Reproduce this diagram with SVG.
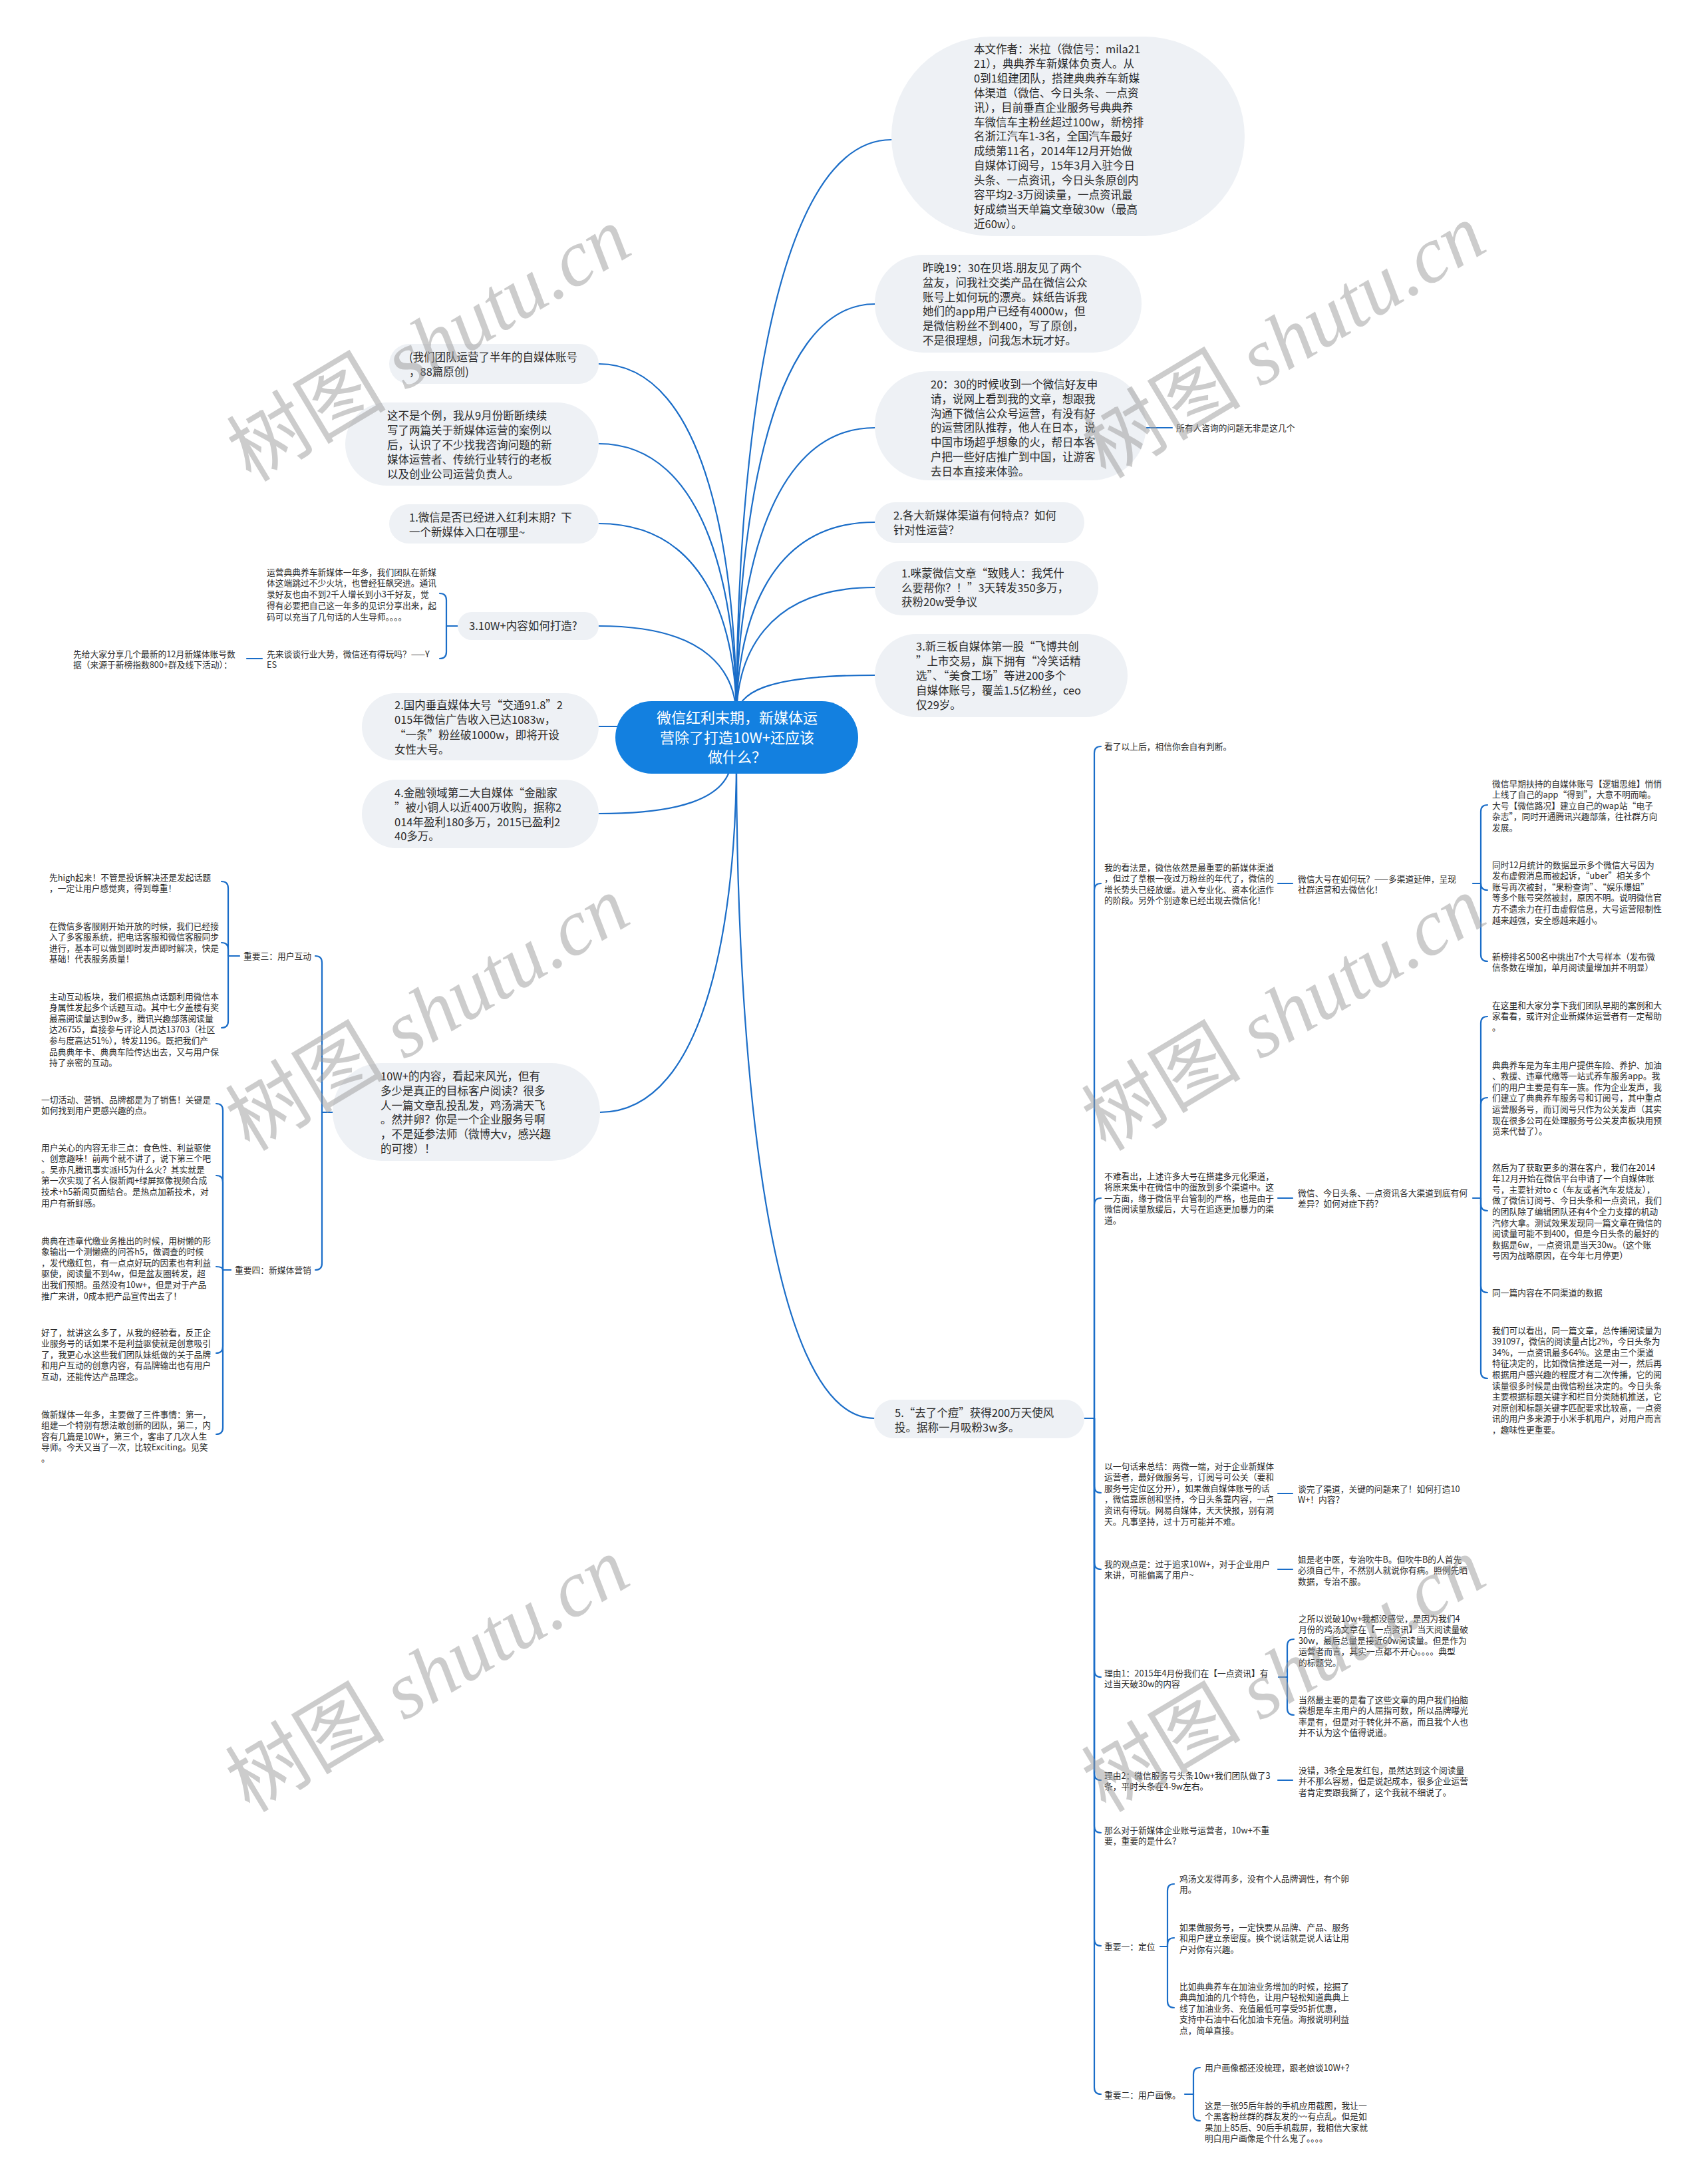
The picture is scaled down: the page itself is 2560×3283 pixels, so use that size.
<svg xmlns="http://www.w3.org/2000/svg" width="2560" height="3283" viewBox="0 0 2560 3283">
<style>
.bg{fill:#ffffff}
.b{fill:#eef1f5}
.root{fill:#1380e0}
.t{font-family:"Noto Sans CJK SC","Noto Sans",sans-serif;font-size:16.5px;fill:#2a2a2a}
.s{font-family:"Noto Sans CJK SC","Noto Sans",sans-serif;font-size:12.75px;fill:#2a2a2a}
.rt{font-family:"Noto Sans CJK SC","Noto Sans",sans-serif;font-size:22px;fill:#ffffff}
.c{fill:none;stroke:#1a6dc8;stroke-width:2.2;stroke-linecap:round}
.wm{font-family:"Liberation Serif","Noto Sans CJK SC",serif;font-size:120px;fill:#999999;fill-opacity:0.5}
.wm tspan.i{font-style:italic}
</style>
<rect class="bg" x="0" y="0" width="2560" height="3283"/>

<g id="connectors">
<path class="c" d="M1107,1080 C1107,719 1154,210 1340,210"/>
<path class="c" d="M1107,1080 C1107,818 1149,457 1315,457"/>
<path class="c" d="M1107,1080 C1107,893 1149,643 1315,643"/>
<path class="c" d="M1107,1080 C1107,949 1149,785 1315,785"/>
<path class="c" d="M1107,1080 C1107,989 1149,883 1315,883"/>
<path class="c" d="M1107,1080 C1107,1041 1149,1015 1315,1015"/>
<path class="c" d="M1107,1140 C1107,1551 1148,2132 1314,2132"/>
<path class="c" d="M1107,1080 C1107,854 1066,547 900,547"/>
<path class="c" d="M1107,1080 C1107,902 1066,667 900,667"/>
<path class="c" d="M1107,1080 C1107,950 1066,787 900,787"/>
<path class="c" d="M1107,1080 C1107,1012 1066,941 900,941"/>
<path class="c" d="M1010,1092 H900"/>
<path class="c" d="M1100,1140 C1098,1205 1010,1223 900,1223"/>
<path class="c" d="M1107,1140 C1107,1367 1066,1672 902,1672"/>
<path class="c" d="M1723,643 H1762"/>
<!-- 3.10W+ -->
<path class="c" d="M688,941 H671"/>
<path class="c" d="M671,941 V902 Q671,892 661,892"/>
<path class="c" d="M671,941 V980 Q671,990 661,990"/>
<path class="c" d="M394,990 H371"/>
<!-- 10W+ -->
<path class="c" d="M500,1672 H484"/>
<path class="c" d="M484,1672 V1447 Q484,1437 474,1437"/>
<path class="c" d="M484,1672 V1899 Q484,1909 474,1909"/>
<!-- 重要三 -->
<path class="c" d="M360,1437 H343"/>
<path class="c" d="M343,1437 V1335 Q343,1325 333,1325"/>
<path class="c" d="M343,1437 V1427 Q343,1417 333,1417"/>
<path class="c" d="M343,1437 V1535 Q343,1545 333,1545"/>
<!-- 重要四 -->
<path class="c" d="M347,1909 H335"/>
<path class="c" d="M335,1909 V1669 Q335,1659 325,1659"/>
<path class="c" d="M335,1909 V1777 Q335,1767 325,1767"/>
<path class="c" d="M335,1909 Q335,1904 325,1904"/>
<path class="c" d="M335,1909 V2024 Q335,2034 325,2034"/>
<path class="c" d="M335,1909 V2146 Q335,2156 325,2156"/>
<!-- 5. -->
<path class="c" d="M1630,2132 H1645"/>
<path class="c" d="M1645,2132 V1132 Q1645,1122 1655,1122"/>
<path class="c" d="M1645,2132 V1338 Q1645,1328 1655,1328"/>
<path class="c" d="M1645,2132 V1811 Q1645,1801 1655,1801"/>
<path class="c" d="M1645,2132 V2234 Q1645,2244 1655,2244"/>
<path class="c" d="M1645,2132 V2349 Q1645,2359 1655,2359"/>
<path class="c" d="M1645,2132 V2511 Q1645,2521 1655,2521"/>
<path class="c" d="M1645,2132 V2666 Q1645,2676 1655,2676"/>
<path class="c" d="M1645,2132 V2745 Q1645,2755 1655,2755"/>
<path class="c" d="M1645,2132 V2915 Q1645,2925 1655,2925"/>
<path class="c" d="M1645,2132 V3138 Q1645,3148 1655,3148"/>
<!-- R2 -->
<path class="c" d="M1921,1328 H1943"/>
<path class="c" d="M2214,1328 H2226"/>
<path class="c" d="M2226,1328 V1220 Q2226,1210 2236,1210"/>
<path class="c" d="M2226,1328 Q2226,1338 2236,1338"/>
<path class="c" d="M2226,1328 V1435 Q2226,1445 2236,1445"/>
<!-- R3 -->
<path class="c" d="M1921,1801 H1943"/>
<path class="c" d="M2214,1801 H2226"/>
<path class="c" d="M2226,1801 V1538 Q2226,1528 2236,1528"/>
<path class="c" d="M2226,1801 V1660 Q2226,1650 2236,1650"/>
<path class="c" d="M2226,1801 V1810 Q2226,1820 2236,1820"/>
<path class="c" d="M2226,1801 V1933 Q2226,1943 2236,1943"/>
<path class="c" d="M2226,1801 V2062 Q2226,2072 2236,2072"/>
<!-- R4 R5 -->
<path class="c" d="M1921,2245 H1943"/>
<path class="c" d="M1921,2359 H1943"/>
<!-- R6 -->
<path class="c" d="M1922,2521 H1935"/>
<path class="c" d="M1935,2521 V2474 Q1935,2464 1945,2464"/>
<path class="c" d="M1935,2521 V2568 Q1935,2578 1945,2578"/>
<!-- R7 -->
<path class="c" d="M1921,2676 H1943"/>
<!-- R9 -->
<path class="c" d="M1744,2926 H1755"/>
<path class="c" d="M1755,2926 V2842 Q1755,2832 1765,2832"/>
<path class="c" d="M1755,2926 V2923 Q1755,2913 1765,2913"/>
<path class="c" d="M1755,2926 V3008 Q1755,3018 1765,3018"/>
<!-- R10 -->
<path class="c" d="M1781,3148 H1794"/>
<path class="c" d="M1794,3148 V3118 Q1794,3108 1804,3108"/>
<path class="c" d="M1794,3148 V3178 Q1794,3188 1804,3188"/>
</g>

<g id="root">
<rect class="root" x="925" y="1054" width="365" height="109" rx="54.5"/>
<text class="rt" x="1108" y="1087" text-anchor="middle"><tspan x="1108" dy="0">微信红利末期，新媒体运</tspan><tspan x="1108" dy="29.5">营除了打造10W+还应该</tspan><tspan x="1108" dy="29.5">做什么？</tspan></text>
</g>

<g id="n-author">
<rect class="b" x="1340" y="55" width="531" height="300" rx="150"/>
<text class="t" x="1464" y="80"><tspan x="1464" dy="0">本文作者：米拉（微信号：mila21</tspan><tspan x="1464" dy="21.9">21），典典养车新媒体负责人。从</tspan><tspan x="1464" dy="21.9">0到1组建团队，搭建典典养车新媒</tspan><tspan x="1464" dy="21.9">体渠道（微信、今日头条、一点资</tspan><tspan x="1464" dy="21.9">讯），目前垂直企业服务号典典养</tspan><tspan x="1464" dy="21.9">车微信车主粉丝超过100w，新榜排</tspan><tspan x="1464" dy="21.9">名浙江汽车1-3名，全国汽车最好</tspan><tspan x="1464" dy="21.9">成绩第11名，2014年12月开始做</tspan><tspan x="1464" dy="21.9">自媒体订阅号，15年3月入驻今日</tspan><tspan x="1464" dy="21.9">头条、一点资讯，今日头条原创内</tspan><tspan x="1464" dy="21.9">容平均2-3万阅读量，一点资讯最</tspan><tspan x="1464" dy="21.9">好成绩当天单篇文章破30w（最高</tspan><tspan x="1464" dy="21.9">近60w）。</tspan></text>
</g>

<g id="n-b2">
<rect class="b" x="1315" y="383" width="401" height="147" rx="73"/>
<text class="t" x="1387" y="409"><tspan x="1387" dy="0">昨晚19：30在贝塔.朋友见了两个</tspan><tspan x="1387" dy="21.8">盆友，问我社交类产品在微信公众</tspan><tspan x="1387" dy="21.8">账号上如何玩的漂亮。妹纸告诉我</tspan><tspan x="1387" dy="21.8">她们的app用户已经有4000w，但</tspan><tspan x="1387" dy="21.8">是微信粉丝不到400，写了原创，</tspan><tspan x="1387" dy="21.8">不是很理想，问我怎木玩才好。</tspan></text>
</g>

<g id="n-b3">
<rect class="b" x="1315" y="558" width="408" height="164" rx="82"/>
<text class="t" x="1399" y="584"><tspan x="1399" dy="0">20：30的时候收到一个微信好友申</tspan><tspan x="1399" dy="21.8">请，说网上看到我的文章，想跟我</tspan><tspan x="1399" dy="21.8">沟通下微信公众号运营，有没有好</tspan><tspan x="1399" dy="21.8">的运营团队推荐，他人在日本，说</tspan><tspan x="1399" dy="21.8">中国市场超乎想象的火，帮日本客</tspan><tspan x="1399" dy="21.8">户把一些好店推广到中国，让游客</tspan><tspan x="1399" dy="21.8">去日本直接来体验。</tspan></text>
</g>

<g id="n-b3-label">
<text class="s" x="1768" y="647.5">所有人咨询的问题无非是这几个</text>
</g>

<g id="n-b4">
<rect class="b" x="1315" y="755" width="315" height="61" rx="30.5"/>
<text class="t" x="1343" y="781"><tspan x="1343" dy="0">2.各大新媒体渠道有何特点？如何</tspan><tspan x="1343" dy="22">针对性运营？</tspan></text>
</g>

<g id="n-b5">
<rect class="b" x="1315" y="843" width="336" height="82" rx="41"/>
<text class="t" x="1355" y="868"><tspan x="1355" dy="0">1.咪蒙微信文章“致贱人：我凭什</tspan><tspan x="1355" dy="21.6">么要帮你？！”3天转发350多万，</tspan><tspan x="1355" dy="21.6">获粉20w受争议</tspan></text>
</g>

<g id="n-b6">
<rect class="b" x="1315" y="953" width="380" height="125" rx="62.5"/>
<text class="t" x="1377" y="978"><tspan x="1377" dy="0">3.新三板自媒体第一股“飞博共创</tspan><tspan x="1377" dy="21.9">”上市交易，旗下拥有“冷笑话精</tspan><tspan x="1377" dy="21.9">选”、“美食工场”等进200多个</tspan><tspan x="1377" dy="21.9">自媒体账号，覆盖1.5亿粉丝，ceo</tspan><tspan x="1377" dy="21.9">仅29岁。</tspan></text>
</g>

<g id="n-l1">
<rect class="b" x="585" y="517" width="315" height="60" rx="30"/>
<text class="t" x="615" y="543"><tspan x="615" dy="0">(我们团队运营了半年的自媒体账号</tspan><tspan x="615" dy="22">，88篇原创)</tspan></text>
</g>

<g id="n-l2">
<rect class="b" x="519" y="605" width="381" height="125" rx="62.5"/>
<text class="t" x="582" y="631"><tspan x="582" dy="0">这不是个例，我从9月份断断续续</tspan><tspan x="582" dy="21.9">写了两篇关于新媒体运营的案例以</tspan><tspan x="582" dy="21.9">后，认识了不少找我咨询问题的新</tspan><tspan x="582" dy="21.9">媒体运营者、传统行业转行的老板</tspan><tspan x="582" dy="21.9">以及创业公司运营负责人。</tspan></text>
</g>

<g id="n-l3">
<rect class="b" x="585" y="758" width="315" height="59" rx="29.5"/>
<text class="t" x="615" y="784"><tspan x="615" dy="0">1.微信是否已经进入红利末期？下</tspan><tspan x="615" dy="22">一个新媒体入口在哪里~</tspan></text>
</g>

<g id="n-l4">
<rect class="b" x="688" y="920" width="212" height="42" rx="21"/>
<text class="t" x="705" y="947">3.10W+内容如何打造?</text>
</g>

<g id="n-l4-a">
<text class="s" x="401" y="864.5"><tspan x="401" dy="0">运营典典养车新媒体一年多，我们团队在新媒</tspan><tspan x="401" dy="16.8">体这端跳过不少火坑，也曾经狂飙突进。通讯</tspan><tspan x="401" dy="16.8">录好友也由不到2千人增长到小3千好友，觉</tspan><tspan x="401" dy="16.8">得有必要把自己这一年多的见识分享出来，起</tspan><tspan x="401" dy="16.8">码可以充当了几句话的人生导师。。。。</tspan></text>
</g>
<g id="n-l4-b">
<text class="s" x="401" y="987.5"><tspan x="401" dy="0">先来谈谈行业大势，微信还有得玩吗？——Y</tspan><tspan x="401" dy="16.5">ES</tspan></text>
</g>
<g id="n-l4-b1">
<text class="s" x="110" y="987.5"><tspan x="110" dy="0">先给大家分享几个最新的12月新媒体账号数</tspan><tspan x="110" dy="16.5">据（来源于新榜指数800+群及线下活动）：</tspan></text>
</g>

<g id="n-l5">
<rect class="b" x="544" y="1042" width="356" height="101" rx="50.5"/>
<text class="t" x="593" y="1066"><tspan x="593" dy="0">2.国内垂直媒体大号“交通91.8”2</tspan><tspan x="593" dy="22.4">015年微信广告收入已达1083w，</tspan><tspan x="593" dy="22.4">“一条”粉丝破1000w，即将开设</tspan><tspan x="593" dy="22.4">女性大号。</tspan></text>
</g>

<g id="n-l6">
<rect class="b" x="544" y="1172" width="356" height="103" rx="51.5"/>
<text class="t" x="593" y="1198"><tspan x="593" dy="0">4.金融领域第二大自媒体“金融家</tspan><tspan x="593" dy="21.8">”被小铜人以近400万收购，据称2</tspan><tspan x="593" dy="21.8">014年盈利180多万，2015已盈利2</tspan><tspan x="593" dy="21.8">40多万。</tspan></text>
</g>

<g id="n-l7">
<rect class="b" x="500" y="1598" width="402" height="147" rx="73.5"/>
<text class="t" x="572" y="1624"><tspan x="572" dy="0">10W+的内容，看起来风光，但有</tspan><tspan x="572" dy="21.8">多少是真正的目标客户阅读？很多</tspan><tspan x="572" dy="21.8">人一篇文章乱投乱发，鸡汤满天飞</tspan><tspan x="572" dy="21.8">。然并卵？你是一个企业服务号啊</tspan><tspan x="572" dy="21.8">，不是延参法师（微博大v，感兴趣</tspan><tspan x="572" dy="21.8">的可搜）！</tspan></text>
</g>

<g id="n-imp3">
<text class="s" x="366" y="1441.5">重要三：用户互动</text>
</g>
<g id="n-imp3-a">
<text class="s" x="74" y="1323.5"><tspan x="74" dy="0">先high起来！不管是投诉解决还是发起话题</tspan><tspan x="74" dy="16.6">，一定让用户感觉爽，得到尊重！</tspan></text>
</g>
<g id="n-imp3-b">
<text class="s" x="74" y="1396.5"><tspan x="74" dy="0">在微信多客服刚开始开放的时候，我们已经接</tspan><tspan x="74" dy="16.6">入了多客服系统，把电话客服和微信客服同步</tspan><tspan x="74" dy="16.6">进行，基本可以做到即时发声即时解决，快是</tspan><tspan x="74" dy="16.6">基础！代表服务质量！</tspan></text>
</g>
<g id="n-imp3-c">
<text class="s" x="74" y="1502.5"><tspan x="74" dy="0">主动互动板块，我们根据热点话题利用微信本</tspan><tspan x="74" dy="16.6">身属性发起多个话题互动。其中七夕盖楼有奖</tspan><tspan x="74" dy="16.6">最高阅读量达到9w多，腾讯兴趣部落阅读量</tspan><tspan x="74" dy="16.6">达26755，直接参与评论人员达13703（社区</tspan><tspan x="74" dy="16.6">参与度高达51%），转发1196。既把我们产</tspan><tspan x="74" dy="16.6">品典典年卡、典典车险传达出去，又与用户保</tspan><tspan x="74" dy="16.6">持了亲密的互动。</tspan></text>
</g>

<g id="n-imp4">
<text class="s" x="353" y="1913.5">重要四：新媒体营销</text>
</g>
<g id="n-imp4-a">
<text class="s" x="62" y="1657.5"><tspan x="62" dy="0">一切活动、营销、品牌都是为了销售！关键是</tspan><tspan x="62" dy="16.6">如何找到用户更感兴趣的点。</tspan></text>
</g>
<g id="n-imp4-b">
<text class="s" x="62" y="1729.5"><tspan x="62" dy="0">用户关心的内容无非三点：食色性、利益驱使</tspan><tspan x="62" dy="16.6">、创意趣味！前两个就不讲了，说下第三个吧</tspan><tspan x="62" dy="16.6">。吴亦凡腾讯事实派H5为什么火？其实就是</tspan><tspan x="62" dy="16.6">第一次实现了名人假新闻+绿屏抠像视频合成</tspan><tspan x="62" dy="16.6">技术+h5新闻页面结合。是热点加新技术，对</tspan><tspan x="62" dy="16.6">用户有新鲜感。</tspan></text>
</g>
<g id="n-imp4-c">
<text class="s" x="62" y="1869.5"><tspan x="62" dy="0">典典在违章代缴业务推出的时候，用树懒的形</tspan><tspan x="62" dy="16.6">象输出一个测懒癌的问答h5，做调查的时候</tspan><tspan x="62" dy="16.6">，发代缴红包，有一点点好玩的因素也有利益</tspan><tspan x="62" dy="16.6">驱使，阅读量不到4w，但是盆友圈转发，超</tspan><tspan x="62" dy="16.6">出我们预期。虽然没有10w+，但是对于产品</tspan><tspan x="62" dy="16.6">推广来讲，0成本把产品宣传出去了！</tspan></text>
</g>
<g id="n-imp4-d">
<text class="s" x="62" y="2007.5"><tspan x="62" dy="0">好了，就讲这么多了，从我的经验看，反正企</tspan><tspan x="62" dy="16.6">业服务号的话如果不是利益驱使就是创意吸引</tspan><tspan x="62" dy="16.6">了，我更心水这些我们团队妹纸做的关于品牌</tspan><tspan x="62" dy="16.6">和用户互动的创意内容，有品牌输出也有用户</tspan><tspan x="62" dy="16.6">互动，还能传达产品理念。</tspan></text>
</g>
<g id="n-imp4-e">
<text class="s" x="62" y="2130.5"><tspan x="62" dy="0">做新媒体一年多，主要做了三件事情：第一，</tspan><tspan x="62" dy="16.6">组建一个特别有想法敢创新的团队，第二，内</tspan><tspan x="62" dy="16.6">容有几篇是10W+，第三个，客串了几次人生</tspan><tspan x="62" dy="16.6">导师。今天又当了一次，比较Exciting。见笑</tspan><tspan x="62" dy="16.6">。</tspan></text>
</g>

<g id="n-5">
<rect class="b" x="1314" y="2104" width="316" height="58" rx="29"/>
<text class="t" x="1345" y="2130"><tspan x="1345" dy="0">5.“去了个痘”获得200万天使风</tspan><tspan x="1345" dy="22">投。据称一月吸粉3w多。</tspan></text>
</g>

<g id="n-r1">
<text class="s" x="1660" y="1126.5">看了以上后，相信你会自有判断。</text>
</g>
<g id="n-r2">
<text class="s" x="1660" y="1308.5"><tspan x="1660" dy="0">我的看法是，微信依然是最重要的新媒体渠道</tspan><tspan x="1660" dy="16.6">，但过了草根一夜过万粉丝的年代了，微信的</tspan><tspan x="1660" dy="16.6">增长势头已经放缓。进入专业化、资本化运作</tspan><tspan x="1660" dy="16.6">的阶段。另外个别迹象已经出现去微信化！</tspan></text>
</g>
<g id="n-r2a">
<text class="s" x="1951" y="1325.5"><tspan x="1951" dy="0">微信大号在如何玩？——多渠道延伸，呈现</tspan><tspan x="1951" dy="16.6">社群运营和去微信化！</tspan></text>
</g>
<g id="n-r2a1">
<text class="s" x="2243" y="1182.5"><tspan x="2243" dy="0">微信早期扶持的自媒体账号【逻辑思维】悄悄</tspan><tspan x="2243" dy="16.6">上线了自己的app“得到”，大意不明而喻。</tspan><tspan x="2243" dy="16.6">大号【微信路况】建立自己的wap站“电子</tspan><tspan x="2243" dy="16.6">杂志”，同时开通腾讯兴趣部落，往社群方向</tspan><tspan x="2243" dy="16.6">发展。</tspan></text>
</g>
<g id="n-r2a2">
<text class="s" x="2243" y="1304.5"><tspan x="2243" dy="0">同时12月统计的数据显示多个微信大号因为</tspan><tspan x="2243" dy="16.6">发布虚假消息而被起诉，“uber”相关多个</tspan><tspan x="2243" dy="16.6">账号再次被封，“果粉查询”、“娱乐爆姐”</tspan><tspan x="2243" dy="16.6">等多个账号突然被封，原因不明。说明微信官</tspan><tspan x="2243" dy="16.6">方不遗余力在打击虚假信息，大号运营限制性</tspan><tspan x="2243" dy="16.6">越来越强，安全感越来越小。</tspan></text>
</g>
<g id="n-r2a3">
<text class="s" x="2243" y="1442.5"><tspan x="2243" dy="0">新榜排名500名中挑出7个大号样本（发布微</tspan><tspan x="2243" dy="16.6">信条数在增加，单月阅读量增加并不明显）</tspan></text>
</g>

<g id="n-r3">
<text class="s" x="1660" y="1772.5"><tspan x="1660" dy="0">不难看出，上述许多大号在搭建多元化渠道，</tspan><tspan x="1660" dy="16.6">将原来集中在微信中的蛋放到多个渠道中。这</tspan><tspan x="1660" dy="16.6">一方面，缘于微信平台管制的严格，也是由于</tspan><tspan x="1660" dy="16.6">微信阅读量放缓后，大号在追逐更加暴力的渠</tspan><tspan x="1660" dy="16.6">道。</tspan></text>
</g>
<g id="n-r3a">
<text class="s" x="1951" y="1797.5"><tspan x="1951" dy="0">微信、今日头条、一点资讯各大渠道到底有何</tspan><tspan x="1951" dy="16.6">差异？如何对症下药？</tspan></text>
</g>
<g id="n-r3a1">
<text class="s" x="2243" y="1515.5"><tspan x="2243" dy="0">在这里和大家分享下我们团队早期的案例和大</tspan><tspan x="2243" dy="16.6">家看看，或许对企业新媒体运营者有一定帮助</tspan><tspan x="2243" dy="16.6">。</tspan></text>
</g>
<g id="n-r3a2">
<text class="s" x="2243" y="1605.5"><tspan x="2243" dy="0">典典养车是为车主用户提供车险、养护、加油</tspan><tspan x="2243" dy="16.6">、救援、违章代缴等一站式养车服务app。我</tspan><tspan x="2243" dy="16.6">们的用户主要是有车一族。作为企业发声，我</tspan><tspan x="2243" dy="16.6">们建立了典典养车服务号和订阅号，其中重点</tspan><tspan x="2243" dy="16.6">运营服务号，而订阅号只作为公关发声（其实</tspan><tspan x="2243" dy="16.6">现在很多公司在处理服务号公关发声板块用预</tspan><tspan x="2243" dy="16.6">览来代替了）。</tspan></text>
</g>
<g id="n-r3a3">
<text class="s" x="2243" y="1759.5"><tspan x="2243" dy="0">然后为了获取更多的潜在客户，我们在2014</tspan><tspan x="2243" dy="16.6">年12月开始在微信平台申请了一个自媒体账</tspan><tspan x="2243" dy="16.6">号，主要针对to c（车友或者汽车发烧友），</tspan><tspan x="2243" dy="16.6">做了微信订阅号、今日头条和一点资讯，我们</tspan><tspan x="2243" dy="16.6">的团队除了编辑团队还有4个全力支撑的机动</tspan><tspan x="2243" dy="16.6">汽修大拿。测试效果发现同一篇文章在微信的</tspan><tspan x="2243" dy="16.6">阅读量可能不到400，但是今日头条的最好的</tspan><tspan x="2243" dy="16.6">数据是6w，一点资讯是当天30w。（这个账</tspan><tspan x="2243" dy="16.6">号因为战略原因，在今年七月停更）</tspan></text>
</g>
<g id="n-r3a4">
<text class="s" x="2243" y="1947.5">同一篇内容在不同渠道的数据</text>
</g>
<g id="n-r3a5">
<text class="s" x="2243" y="2004.5"><tspan x="2243" dy="0">我们可以看出，同一篇文章，总传播阅读量为</tspan><tspan x="2243" dy="16.6">391097，微信的阅读量占比2%，今日头条为</tspan><tspan x="2243" dy="16.6">34%，一点资讯最多64%。这是由三个渠道</tspan><tspan x="2243" dy="16.6">特征决定的，比如微信推送是一对一，然后再</tspan><tspan x="2243" dy="16.6">根据用户感兴趣的程度才有二次传播，它的阅</tspan><tspan x="2243" dy="16.6">读量很多时候是由微信粉丝决定的。今日头条</tspan><tspan x="2243" dy="16.6">主要根据标题关键字和栏目分类随机推送，它</tspan><tspan x="2243" dy="16.6">对原创和标题关键字匹配要求比较高，一点资</tspan><tspan x="2243" dy="16.6">讯的用户多来源于小米手机用户，对用户而言</tspan><tspan x="2243" dy="16.6">，趣味性更重要。</tspan></text>
</g>

<g id="n-r4">
<text class="s" x="1660" y="2208.5"><tspan x="1660" dy="0">以一句话来总结：两微一端，对于企业新媒体</tspan><tspan x="1660" dy="16.6">运营者，最好做服务号，订阅号可公关（要和</tspan><tspan x="1660" dy="16.6">服务号定位区分开），如果做自媒体账号的话</tspan><tspan x="1660" dy="16.6">，微信靠原创和坚持，今日头条靠内容，一点</tspan><tspan x="1660" dy="16.6">资讯有得玩。网易自媒体，天天快报，别有洞</tspan><tspan x="1660" dy="16.6">天。凡事坚持，过十万可能并不难。</tspan></text>
</g>
<g id="n-r4a">
<text class="s" x="1951" y="2242.5"><tspan x="1951" dy="0">谈完了渠道，关键的问题来了！如何打造10</tspan><tspan x="1951" dy="16.6">W+！内容？</tspan></text>
</g>
<g id="n-r5">
<text class="s" x="1660" y="2355.5"><tspan x="1660" dy="0">我的观点是：过于追求10W+，对于企业用户</tspan><tspan x="1660" dy="16.6">来讲，可能偏离了用户~</tspan></text>
</g>
<g id="n-r5a">
<text class="s" x="1951" y="2348.5"><tspan x="1951" dy="0">姐是老中医，专治吹牛B。但吹牛B的人首先</tspan><tspan x="1951" dy="16.6">必须自己牛，不然别人就说你有病。照例先晒</tspan><tspan x="1951" dy="16.6">数据，专治不服。</tspan></text>
</g>
<g id="n-r6">
<text class="s" x="1660" y="2519.5"><tspan x="1660" dy="0">理由1：2015年4月份我们在【一点资讯】有</tspan><tspan x="1660" dy="16.6">过当天破30w的内容</tspan></text>
</g>
<g id="n-r6a">
<text class="s" x="1952" y="2437.5"><tspan x="1952" dy="0">之所以说破10w+我都没感觉，是因为我们4</tspan><tspan x="1952" dy="16.6">月份的鸡汤文章在【一点资讯】当天阅读量破</tspan><tspan x="1952" dy="16.6">30w，最后总量是接近60w阅读量。但是作为</tspan><tspan x="1952" dy="16.6">运营者而言，其实一点都不开心。。。。典型</tspan><tspan x="1952" dy="16.6">的标题党。</tspan></text>
</g>
<g id="n-r6b">
<text class="s" x="1952" y="2559.5"><tspan x="1952" dy="0">当然最主要的是看了这些文章的用户我们拍脑</tspan><tspan x="1952" dy="16.6">袋想是车主用户的人屈指可数，所以品牌曝光</tspan><tspan x="1952" dy="16.6">率是有，但是对于转化并不高，而且我个人也</tspan><tspan x="1952" dy="16.6">并不认为这个值得说道。</tspan></text>
</g>
<g id="n-r7">
<text class="s" x="1660" y="2673.5"><tspan x="1660" dy="0">理由2：微信服务号头条10w+我们团队做了3</tspan><tspan x="1660" dy="16.6">条，平时头条在4-9w左右。</tspan></text>
</g>
<g id="n-r7a">
<text class="s" x="1952" y="2665.5"><tspan x="1952" dy="0">没错，3条全是发红包，虽然达到这个阅读量</tspan><tspan x="1952" dy="16.6">并不那么容易，但是说起成本，很多企业运营</tspan><tspan x="1952" dy="16.6">者肯定要跟我撕了，这个我就不细说了。</tspan></text>
</g>
<g id="n-r8">
<text class="s" x="1660" y="2755.5"><tspan x="1660" dy="0">那么对于新媒体企业账号运营者，10w+不重</tspan><tspan x="1660" dy="16.6">要，重要的是什么？</tspan></text>
</g>
<g id="n-r9">
<text class="s" x="1660" y="2930.5">重要一：定位</text>
</g>
<g id="n-r9a">
<text class="s" x="1773" y="2828.5"><tspan x="1773" dy="0">鸡汤文发得再多，没有个人品牌调性，有个卵</tspan><tspan x="1773" dy="16.6">用。</tspan></text>
</g>
<g id="n-r9b">
<text class="s" x="1773" y="2901.5"><tspan x="1773" dy="0">如果做服务号，一定快要从品牌、产品、服务</tspan><tspan x="1773" dy="16.6">和用户建立亲密度。换个说话就是说人话让用</tspan><tspan x="1773" dy="16.6">户对你有兴趣。</tspan></text>
</g>
<g id="n-r9c">
<text class="s" x="1773" y="2990.5"><tspan x="1773" dy="0">比如典典养车在加油业务增加的时候，挖掘了</tspan><tspan x="1773" dy="16.6">典典加油的几个特色，让用户轻松知道典典上</tspan><tspan x="1773" dy="16.6">线了加油业务、充值最低可享受95折优惠，</tspan><tspan x="1773" dy="16.6">支持中石油中石化加油卡充值。海报说明利益</tspan><tspan x="1773" dy="16.6">点，简单直接。</tspan></text>
</g>
<g id="n-r10">
<text class="s" x="1660" y="3153.5">重要二：用户画像。</text>
</g>
<g id="n-r10a">
<text class="s" x="1811" y="3112.5">用户画像都还没梳理，跟老娘谈10W+？</text>
</g>
<g id="n-r10b">
<text class="s" x="1811" y="3169.5"><tspan x="1811" dy="0">这是一张95后年龄的手机应用截图，我让一</tspan><tspan x="1811" dy="16.6">个黑客粉丝群的群友发的~~有点乱。但是如</tspan><tspan x="1811" dy="16.6">果加上85后、90后手机截屏，我相信大家就</tspan><tspan x="1811" dy="16.6">明白用户画像是个什么鬼了。。。。</tspan></text>
</g>

<g id="watermarks">
<text class="wm" x="645" y="518" text-anchor="middle" dominant-baseline="central" transform="rotate(-31 645 518)">树图 <tspan class="i">shutu.cn</tspan></text>
<text class="wm" x="1930" y="513" text-anchor="middle" dominant-baseline="central" transform="rotate(-31 1930 513)">树图 <tspan class="i">shutu.cn</tspan></text>
<text class="wm" x="643" y="1524" text-anchor="middle" dominant-baseline="central" transform="rotate(-31 643 1524)">树图 <tspan class="i">shutu.cn</tspan></text>
<text class="wm" x="1930" y="1524" text-anchor="middle" dominant-baseline="central" transform="rotate(-31 1930 1524)">树图 <tspan class="i">shutu.cn</tspan></text>
<text class="wm" x="643" y="2518" text-anchor="middle" dominant-baseline="central" transform="rotate(-31 643 2518)">树图 <tspan class="i">shutu.cn</tspan></text>
<text class="wm" x="1930" y="2518" text-anchor="middle" dominant-baseline="central" transform="rotate(-31 1930 2518)">树图 <tspan class="i">shutu.cn</tspan></text>
</g>
</svg>
